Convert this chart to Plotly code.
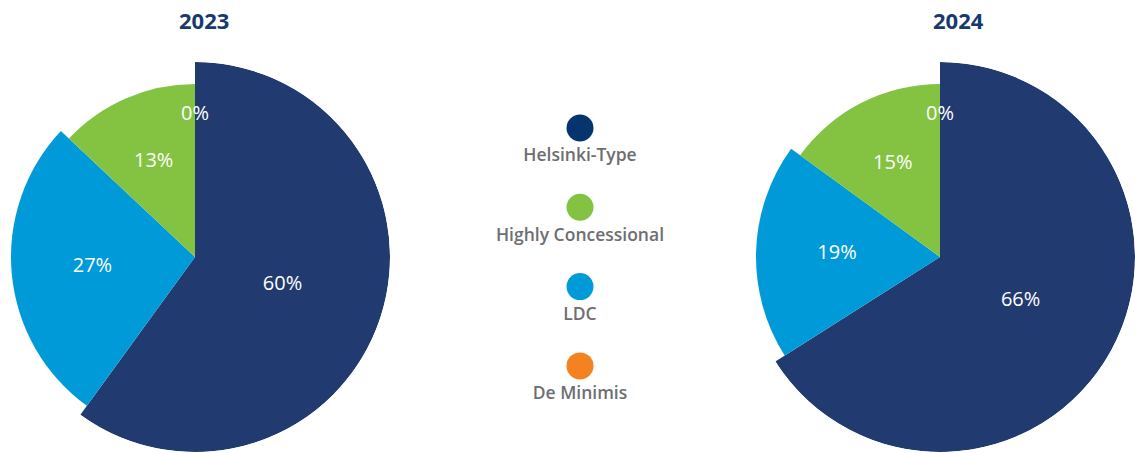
import plotly.graph_objects as go

# ---------------- data ----------------
categories = ["Helsinki-Type", "Highly Concessional", "LDC", "De Minimis"]
years = ["2023", "2024"]
values_2023 = [60, 13, 27, 0]
values_2024 = [66, 15, 19, 0]

# ---------------- styles ----------------
slice_colors = ["#213a70", "#84c341", "#009ad8", "#f58220"]
legend_colors = ["#05346e", "#84c341", "#009ad8", "#f58220"]
clockwise_order = [0, 2, 1, 3]          # drawing order, clockwise from 12 o'clock
slice_radius = [195, 173, 184, 173]      # per category (px == radial units)
label_radius = [92, 104, 103, 142]       # per category
W, H = 1135, 453

polar_domains = [
    dict(x=[0 / W, 390 / W], y=[1 / H, 391 / H]),
    dict(x=[745 / W, 1135 / W], y=[1 / H, 391 / H]),
]
title_x = [204, 958]

fig = go.Figure()

for k, (year, vals) in enumerate(zip(years, [values_2023, values_2024])):
    pid = "polar" if k == 0 else f"polar{k+1}"
    thetas, widths, radii, cols = [], [], [], []
    lt, lr, ltext = [], [], []
    cum = 0.0
    for idx in clockwise_order:
        v = vals[idx]
        mid = (cum + v / 2) * 3.6
        if v > 0:
            thetas.append(mid)
            widths.append(v * 3.6)
            radii.append(slice_radius[idx])
            cols.append(slice_colors[idx])
        lt.append(mid)
        lr.append(label_radius[idx])
        ltext.append(f"{v}%")
        cum += v
    fig.add_trace(go.Barpolar(
        r=radii, theta=thetas, width=widths,
        marker=dict(color=cols, line=dict(width=0)),
        subplot=pid, showlegend=False, hoverinfo="skip",
    ))
    fig.add_trace(go.Scatterpolar(
        r=lr, theta=lt, text=ltext, mode="text",
        textfont=dict(color="white", size=20, family="Open Sans", weight=500),
        subplot=pid, showlegend=False, hoverinfo="skip", cliponaxis=False,
    ))
    polar_cfg = dict(
        domain=polar_domains[k],
        bgcolor="rgba(0,0,0,0)",
        hole=0,
        radialaxis=dict(visible=False, range=[0, 195], showgrid=False),
        angularaxis=dict(visible=False, rotation=90, direction="clockwise",
                         showgrid=False),
    )
    fig.update_layout(**{pid: polar_cfg})
    fig.add_annotation(
        x=title_x[k] / W, y=1 - 20 / H, xref="paper", yref="paper",
        text=f"<b>{year}</b>", showarrow=False, xanchor="center", yanchor="middle",
        font=dict(size=22, color="#173a6e", family="Open Sans"),
    )

# ---------------- custom legend (marker above text) ----------------
leg_x0, leg_y0, leg_step, text_gap = 580, 128, 79.3, 29
leg_y = [leg_y0 + i * leg_step for i in range(len(categories))]
fig.add_trace(go.Scatter(
    x=[leg_x0] * len(categories), y=leg_y, mode="markers",
    marker=dict(size=27, color=legend_colors, line=dict(width=0)),
    showlegend=False, hoverinfo="skip", xaxis="x", yaxis="y",
))
fig.add_trace(go.Scatter(
    x=[leg_x0] * len(categories), y=[y + text_gap for y in leg_y],
    mode="text", text=categories, textposition="middle center",
    textfont=dict(size=17.5, color="#6d6e71", family="Open Sans", weight=600),
    showlegend=False, hoverinfo="skip", xaxis="x", yaxis="y",
))

fig.update_layout(
    width=W, height=H,
    margin=dict(l=0, r=0, t=0, b=0),
    paper_bgcolor="white", plot_bgcolor="rgba(0,0,0,0)",
    xaxis=dict(range=[0, W], domain=[0, 1], visible=False, fixedrange=True),
    yaxis=dict(range=[H, 0], domain=[0, 1], visible=False, fixedrange=True),
    showlegend=False,
)

fig.write_html(
    "out.html",
    config={"displayModeBar": False},
    post_script="document.body.style.margin='0';document.body.style.overflow='hidden';",
)
